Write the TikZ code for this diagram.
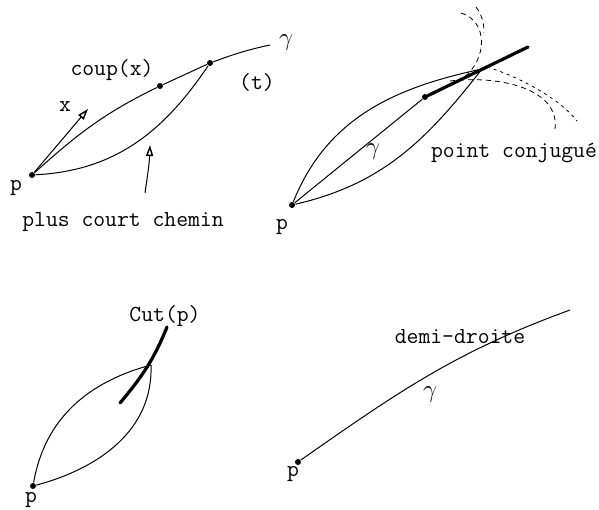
\documentclass[tikz,border=0pt]{standalone}
\usepackage{tikz}
\usetikzlibrary{arrows.meta}

\begin{document}
\begin{tikzpicture}[
    x=1pt, y=1pt,
    line width=1pt,
    tw/.style={font=\ttfamily\fontsize{23}{25}\selectfont, inner sep=0pt},
    gm/.style={font=\fontsize{28}{30}\selectfont, inner sep=0pt},
    pt/.style={circle, fill, inner sep=0pt, minimum size=6pt},
    fl/.style={-{Triangle[open, length=11pt, width=7pt, line width=1.4pt]}},
    cut/.style={line width=3.2pt, line cap=round},
    dsh/.style={dash pattern=on 5pt off 4pt, line width=0.8pt},
]
    \useasboundingbox (0,0) rectangle (599,509);
    % haut gauche
    \node[pt] (p1) at (32,334) {};
    \node[pt] (c1) at (160,423) {};
    \node[pt] (t1) at (210,446) {};
    \coordinate (g1) at (270,464);
    \coordinate (x1) at (88,400);
    \coordinate (a1t) at (145,316);
    \coordinate (a1h) at (150,364);
    \node[tw] (lp1) at (16,321) {p};
    \node[tw] (lx1) at (65,402) {x};
    \node[tw] (lc1) at (112,439) {coup(x)};
    \node[tw] (lt1) at (257,427) {(t)};
    \node[gm] (lg1) at (286,466) {$\gamma$};
    \node[tw] (lm1) at (123,287) {plus court chemin};
    \draw (p1) to[out=42,in=206] (c1) -- (t1) to[out=20,in=192] (g1);
    \draw (p1) to[out=3,in=236] (t1);
    \draw[fl] (p1) -- (x1);
    \draw[fl] (a1t) to[out=82,in=-92] (a1h);
    % haut droite
    \node[pt] (p2) at (292,304) {};
    \node[pt] (q2) at (425,412) {};
    \coordinate (k2) at (482,440);
    \coordinate (e2) at (528,462);
    \node[tw] (lp2) at (282,282) {p};
    \node[gm] (lg2) at (373,357) {$\gamma$};
    \node[tw] (lk2) at (514,356) {point conjugué};
    \draw (p2) -- (q2);
    \draw (p2) to[out=68,in=192] (k2);
    \draw (p2) to[out=13,in=232] (k2);
    \draw[cut] (q2) -- (e2);
    \draw[dsh] (461,496) .. controls (488,488) and (488,450) .. (463,431);
    \draw[dsh] (476,502) .. controls (482,494) and (484,486) .. (484,476);
    \draw[dsh] (450,428) .. controls (500,434) and (560,420) .. (555,380);
    \draw[dsh, dash pattern=on 3pt off 4pt] (487,442) .. controls (520,432) and (560,410) .. (577,388);
    % bas gauche
    \node[pt] (p3) at (33,23) {};
    \coordinate (k3) at (151,144);
    \coordinate (c3a) at (120,106);
    \coordinate (c3b) at (167,182);
    \node[tw] (lp3) at (31,9) {p};
    \node[tw] (lc3) at (165,193) {Cut(p)};
    \draw (p3) to[out=80,in=195] (k3);
    \draw (p3) to[out=15,in=-88] (k3);
    \draw[cut] (c3a) to[out=50,in=248] (c3b);
    % bas droite
    \node[pt] (p4) at (298,47) {};
    \coordinate (e4) at (570,199);
    \node[tw] (lp4) at (293,35) {p};
    \node[gm] (lg4) at (430,114) {$\gamma$};
    \node[tw] (ld4) at (460,172) {demi-droite};
    \draw (p4) to[out=35,in=200] (e4);
\end{tikzpicture}
\end{document}
